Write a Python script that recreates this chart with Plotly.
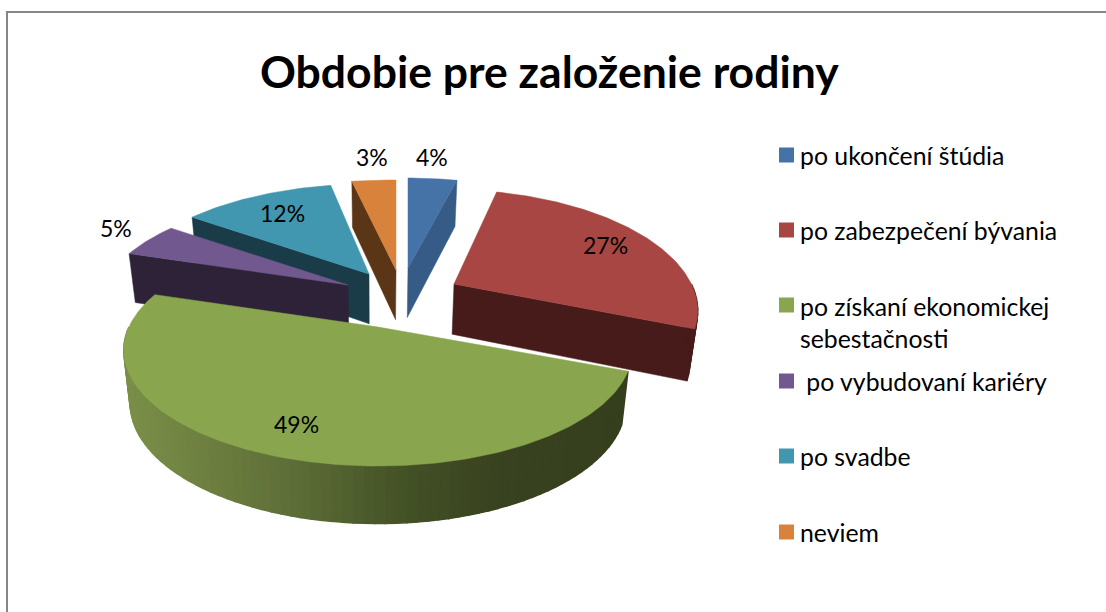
import numpy as np
import plotly.graph_objects as go

# ---- data ----
title_text = "Obdobie pre založenie rodiny"
categories = ["po ukončení štúdia", "po zabezpečení bývania",
              "po získaní ekonomickej<br>sebestačnosti", " po vybudovaní kariéry",
              "po svadbe", "neviem"]
values = [4, 27, 49, 5, 12, 3]

# ---- styles ----
top_colors = ["#4573A7", "#A84644", "#89A54E", "#71588F", "#4197AF", "#D9823B"]
cut_colors = ["#365B87", "#461B19", "#37401D", "#2D2238", "#1A3C49", "#5A3516"]
# exploded slice placement in pixels (apex) and per-slice radius factors
apex = [(408, 268), (454, 284), (378, 327), (348, 285), (369, 274), (396, 270)]
rx_f = [1.0, 1.01, 1.06, 1.04, 1.04, 1.2]
ry_f = [1.0, 1.05, 1.03, 1.0, 1.0, 1.0]
skew = [0, -7, 0, 0, 0, 0]
cut_edge = ["end", "end", None, "start", "start", "start"]
draw_order = [5, 0, 4, 3, 1, 2]
label_xy = [(432, 157), (605, 245), (296, 424), (116, 228), (282, 213), (372, 157)]
legend_y = [155, 230, 322, 381, 456, 532]
swatch_y = [155, 230, 305, 381, 456, 532]
legend_x = [798, 798, 798, 798, 798, 798]

RX, RY, K = 235.0, 108.0, 0.2
XV, XF = 378.0, 0.975


def surface(i, theta):
    t = np.radians(theta)
    X, Y = np.sin(t), np.cos(t)
    s = 1 / (1 + K * Y)
    return apex[i][0] + RX * rx_f[i] * X * s + skew[i] * Y, apex[i][1] - RY * ry_f[i] * Y * s


def drop(x, y):
    return XV + (x - XV) * XF, y + 46 + (y - 179) * 0.04


def poly(xs, ys, color, name, lw=0.5):
    return go.Scatter(x=list(xs) + [xs[0]], y=list(ys) + [ys[0]], mode="lines",
                      fill="toself", fillcolor=color, line=dict(color=color, width=lw),
                      hoverinfo="text", text=name, showlegend=False)


def wall_color(i, x):
    if i != 2:
        return cut_colors[i]
    xp = [128, 200, 300, 400, 500, 630]
    r = np.interp(x, xp, [122, 110, 92, 68, 56, 54])
    g = np.interp(x, xp, [142, 128, 108, 82, 66, 63])
    b = np.interp(x, xp, [72, 64, 54, 38, 32, 29])
    return f"rgb({r:.0f},{g:.0f},{b:.0f})"


cum = np.cumsum([0] + values) / sum(values) * 360
fig = go.Figure()
for i in draw_order:
    a, b = cum[i], cum[i + 1]
    name = categories[i].replace("<br>", " ")
    # radial cut face
    if cut_edge[i]:
        th = a if cut_edge[i] == "start" else b
        x0, y0 = surface(i, th)
        ax, ay = apex[i]
        bx0, by0 = drop(x0, y0)
        bax, bay = drop(ax, ay)
        fig.add_trace(poly([x0, ax, bax, bx0], [y0, ay, bay, by0], cut_colors[i], name))
    # outer wall (front half only)
    lo, hi = max(a, 90), min(b, 270)
    if hi > lo:
        ths = np.linspace(lo, hi, max(2, int((hi - lo) / 2)))
        for t0, t1 in zip(ths[:-1], ths[1:]):
            x0, y0 = surface(i, t0)
            x1, y1 = surface(i, t1)
            bx0, by0 = drop(x0, y0)
            bx1, by1 = drop(x1, y1)
            fig.add_trace(poly([x0, x1, bx1, bx0], [y0, y1, by1, by0],
                               wall_color(i, (x0 + x1) / 2), name, lw=1.5))
    # top face
    ths = np.linspace(a, b, max(4, int(b - a) + 1))
    pts = [surface(i, t) for t in ths]
    xs = [apex[i][0]] + [p[0] for p in pts]
    ys = [apex[i][1]] + [p[1] for p in pts]
    fig.add_trace(poly(xs, ys, top_colors[i], name))

# legend swatches
fig.add_trace(go.Scatter(x=[779 + 7.5] * 6, y=swatch_y, mode="markers", showlegend=False,
                         marker=dict(symbol="square", size=15, color=top_colors, line=dict(width=0)),
                         hoverinfo="skip"))

ann = []
for i, v in enumerate(values):
    ann.append(dict(x=label_xy[i][0], y=label_xy[i][1], text=f"{v}%", showarrow=False,
                    font=dict(family="Lato", size=23, color="black")))
    ann.append(dict(x=legend_x[i], y=legend_y[i], text=categories[i].replace(" po", "&nbsp;po") if categories[i].startswith(" ") else categories[i],
                    showarrow=False, xanchor="left", align="left",
                    font=dict(family="Lato", size=24.8, color="black")))
ann.append(dict(x=549.5, y=70, text=f"<b>{title_text}</b>", showarrow=False,
                font=dict(family="Lato", size=44.5, color="black")))

fig.update_layout(
    width=1106, height=612, margin=dict(l=0, r=0, t=0, b=0),
    paper_bgcolor="white", plot_bgcolor="white", showlegend=False,
    xaxis=dict(range=[0, 1106], visible=False, fixedrange=True),
    yaxis=dict(range=[612, 0], visible=False, fixedrange=True),
    annotations=ann,
    shapes=[dict(type="path", path="M 7 612 L 7 12 L 1106 12", line=dict(color="#868686", width=2))],
)
fig.write_html("out.html", config={"displayModeBar": False},
               post_script="document.body.style.margin='0';")
